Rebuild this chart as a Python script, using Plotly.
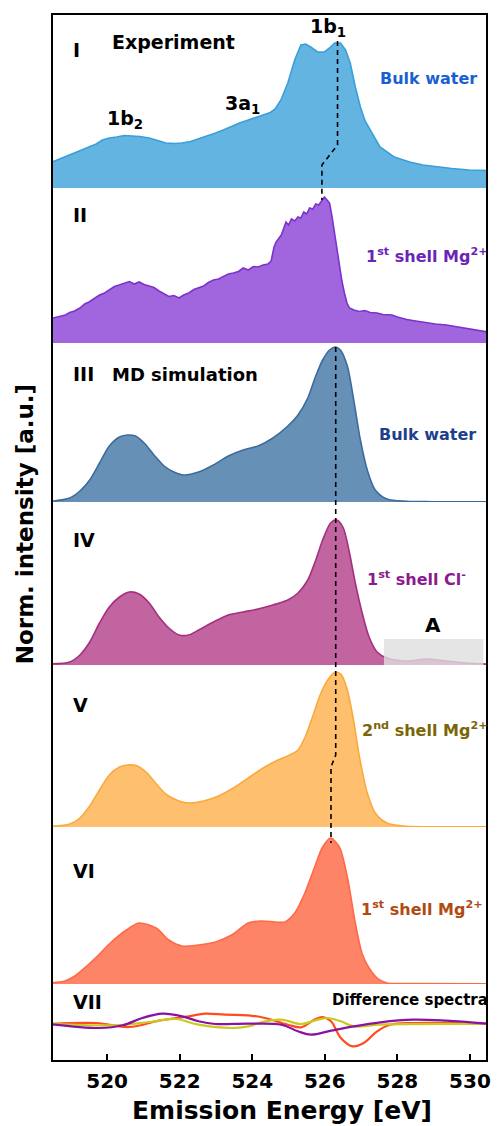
import plotly.graph_objects as go
from plotly.subplots import make_subplots

# ---------------- data ----------------
# I  Experiment, bulk water
E_exp_bulk = [518.40, 518.70, 518.97, 519.25, 519.52, 519.70, 519.87, 520.06, 520.26, 520.47, 520.69, 520.90,
              521.16, 521.40, 521.62, 521.85, 522.06, 522.30, 522.52, 522.75, 522.99, 523.20, 523.43, 523.65,
              523.89, 524.10, 524.35, 524.50, 524.63, 524.79, 524.98, 525.17, 525.34, 525.47, 525.61, 525.80,
              525.99, 526.13, 526.27, 526.43, 526.57, 526.70, 526.84, 526.98, 527.11, 527.25, 527.52, 527.91,
              528.34, 528.70, 529.08, 529.50, 529.98, 530.50]
I_exp_bulk = [24.7, 29, 33, 37, 41, 44, 48, 50, 51, 52.5, 52, 51.5,
              50, 47, 45, 44.5, 45, 46.5, 49, 52, 55, 58, 62, 65,
              68, 70.5, 73, 75.5, 79, 88, 105, 128, 143, 144, 141, 136,
              136, 140, 145, 145, 138, 125, 101, 81, 67, 58, 41, 31,
              26, 23, 21, 19.5, 18, 17.5]

# II  Experiment, 1st shell Mg2+
E_exp_mg1 = [518.40, 518.55, 518.70, 518.85, 518.97, 519.10, 519.25, 519.38, 519.50, 519.65, 519.79, 519.93,
             520.06, 520.20, 520.33, 520.47, 520.61, 520.75, 520.88, 521.02, 521.16, 521.29, 521.43, 521.57,
             521.70, 521.84, 521.98, 522.11, 522.25, 522.39, 522.52, 522.66, 522.79, 522.93, 523.07, 523.21,
             523.34, 523.48, 523.62, 523.75, 523.89, 524.03, 524.16, 524.30, 524.43, 524.52, 524.60, 524.66,
             524.72, 524.80, 524.87, 524.93, 525.00, 525.08, 525.17, 525.26, 525.34, 525.42, 525.50, 525.58,
             525.67, 525.75, 525.83, 525.92, 525.99, 526.06, 526.13, 526.20, 526.27, 526.35, 526.40, 526.47,
             526.54, 526.61, 526.68, 526.80, 526.95, 527.10, 527.25, 527.44, 527.60, 527.85, 528.00, 528.26,
             528.50, 528.80, 529.05, 529.35, 529.60, 529.90, 530.20, 530.50]
I_exp_mg1 = [24, 25.5, 27, 28, 30.5, 32, 35, 39, 41, 44.5, 48, 50,
             53, 56.5, 58, 60, 61.5, 59, 61, 58.5, 57, 55.5, 52, 49,
             46.5, 47.5, 45, 48, 50, 53.5, 55, 57, 60.5, 63, 64, 67,
             69, 70, 71.5, 75, 73, 76.5, 76, 78, 79, 82, 96, 101,
             104, 108, 115, 121, 118, 124, 122, 126, 125, 131, 129, 135,
             134, 139, 138, 143, 146, 143, 140, 126, 110, 90, 76, 62,
             50, 40, 35, 33, 31.5, 32.5, 30.5, 30, 28.5, 28, 26, 23.5,
             22, 20, 19, 18, 16.5, 15, 13, 11]

# III  MD simulation, bulk water
E_md_bulk = [518.40, 518.97, 519.25, 519.52, 519.79, 520.06, 520.34, 520.56, 520.78, 521.02, 521.29, 521.57,
             521.84, 522.11, 522.52, 522.93, 523.34, 523.75, 524.16, 524.57, 524.98, 525.26, 525.53, 525.75,
             525.94, 526.13, 526.30, 526.43, 526.62, 526.81, 526.98, 527.17, 527.39, 527.71, 528.26, 529.00, 530.50]
I_md_bulk = [0.5, 4, 11, 22, 39, 56, 65, 67, 66, 59, 47, 36,
             30, 27, 30, 37, 46, 52, 56, 64, 76, 87, 104, 126,
             142, 152, 155, 152, 136, 99, 62, 32, 12, 3, 0.7, 0.3, 0.2]

# IV  MD simulation, 1st shell Cl-
E_md_cl1 = [518.40, 518.97, 519.25, 519.52, 519.79, 520.06, 520.34, 520.61, 520.88, 521.16, 521.43, 521.70,
            521.98, 522.25, 522.52, 522.93, 523.34, 523.75, 524.16, 524.57, 524.98, 525.26, 525.53, 525.75,
            525.94, 526.16, 526.33, 526.51, 526.68, 526.84, 527.03, 527.22, 527.44, 527.71, 528.26, 528.81,
            529.35, 529.90, 530.50]
I_md_cl1 = [1, 3, 10, 23, 42, 58, 68, 73, 71, 62, 48, 37,
            30, 30, 35, 43, 50, 53, 56, 60, 65, 72, 85, 105,
            125, 142, 145, 137, 112, 82, 52, 28, 13, 7, 4, 6,
            4, 2, 1]

# V  MD simulation, 2nd shell Mg2+
E_md_mg2 = [518.40, 518.97, 519.25, 519.52, 519.79, 520.06, 520.34, 520.56, 520.83, 521.10, 521.38, 521.65,
            521.98, 522.25, 522.66, 523.07, 523.48, 523.89, 524.30, 524.71, 524.98, 525.26, 525.47, 525.67,
            525.86, 526.08, 526.29, 526.46, 526.62, 526.79, 526.95, 527.17, 527.39, 527.71, 528.26, 529.00, 530.50]
I_md_mg2 = [0.5, 3, 9, 21, 37, 52, 60, 62, 61, 54, 42, 32,
            26, 24, 26, 31, 39, 49, 59, 67, 71, 77, 91, 111,
            131, 147, 155, 152, 137, 107, 71, 34, 14, 4, 0.7, 0.3, 0.2]

# VI  MD simulation, 1st shell Mg2+
E_md_mg1 = [518.40, 518.84, 519.11, 519.44, 519.79, 520.06, 520.53, 520.88, 521.35, 521.70, 522.06, 522.52,
            522.99, 523.43, 523.89, 524.25, 524.63, 524.90, 525.17, 525.45, 525.72, 525.94, 526.16, 526.40,
            526.62, 526.84, 527.03, 527.22, 527.44, 527.71, 528.26, 530.50]
I_md_mg1 = [1, 3, 8, 18, 30, 40, 54, 61, 56, 44, 38, 39,
            42, 49, 61, 63, 62, 62, 71, 91, 117, 137, 146, 137,
            107, 61, 30, 16, 6, 1, 0.5, 0.2]

# VII  Difference spectra
E_diff_orange = [518.40, 519.70, 520.61, 521.43, 522.25, 522.70, 523.25, 523.89, 524.35, 524.98, 525.35, 525.71,
                 525.94, 526.17, 526.44, 526.76, 527.07, 527.44, 527.80, 528.44, 530.50]
D_diff_orange = [0, 1, -3, 3.3, 7.7, 10.3, 9.3, 8.7, 6, -0.7, -3.3, 4.3,
                 7, 2.7, -14, -22.3, -19, -7.3, -0.7, 1, 0.3]
E_diff_yellow = [518.40, 520.25, 521.16, 521.89, 522.52, 523.43, 523.89, 524.35, 524.80, 525.35, 525.71, 526.07,
                 526.44, 526.80, 527.53, 530.50]
D_diff_yellow = [0.3, -1.3, 2, 5, -0.7, -4, -2.3, 2.7, 4.3, 0, 3.3, 6,
                 2.7, -2.3, -0.7, 0.3]
E_diff_purple = [518.40, 519.79, 520.43, 520.97, 521.52, 522.07, 522.52, 522.98, 523.89, 524.80, 525.26, 525.62,
                 526.17, 526.80, 527.53, 528.44, 529.35, 530.50]
D_diff_purple = [0, -4, -1.3, 6, 10.3, 7.7, 2.7, 0, 0.3, -0.7, -7.3, -10.7,
                 -6.7, -2.3, 1.7, 4.3, 3.3, 0.3]

x_ticks = [520, 522, 524, 526, 528, 530]
x_range = [518.48, 530.47]

# guide lines through the 1b1 peak (energy values)
guide_upper_E = [526.35, 526.35, 525.92, 525.92]
guide_lower_E = [526.30, 526.30, 526.17, 526.17]

# ---------------- layout helpers ----------------
W, H = 497, 1126
ML, MR, MT, MB = 52, 6, 14, 65
PW = W - ML - MR
PH = H - MT - MB


def pxx(x):
    return (x - ML) / PW


def pxy(y):
    return (H - MB - y) / PH


panel_px = [174, 155, 159, 163, 162, 157, 77]
FONT = "DejaVu Sans"

fig = make_subplots(rows=7, cols=1, shared_xaxes=True, vertical_spacing=0,
                    row_heights=panel_px)

spectra = [
    (E_exp_bulk, I_exp_bulk, "#64b4e1", "#3a9fd8", "linear"),
    (E_exp_mg1, I_exp_mg1, "#a166de", "#7a34cc", "linear"),
    (E_md_bulk, I_md_bulk, "#6690b6", "#3d6c9c", "spline"),
    (E_md_cl1, I_md_cl1, "#c1649f", "#a5307f", "spline"),
    (E_md_mg2, I_md_mg2, "#fec06f", "#fba93d", "spline"),
    (E_md_mg1, I_md_mg1, "#fe8467", "#ff6946", "spline"),
]
for i, (ex, iy, fc, lc, shp) in enumerate(spectra):
    fig.add_trace(go.Scatter(x=ex, y=iy, mode="lines",
                             line=dict(color=lc, width=1.6, shape=shp, smoothing=0.8),
                             fill="tozeroy", fillcolor=fc, hoverinfo="skip"),
                  row=i + 1, col=1)

for ex, dy, c in [(E_diff_orange, D_diff_orange, "#ff4b1f"),
                  (E_diff_yellow, D_diff_yellow, "#c9c91f"),
                  (E_diff_purple, D_diff_purple, "#8a12a2")]:
    fig.add_trace(go.Scatter(x=ex, y=dy, mode="lines",
                             line=dict(color=c, width=2.2, shape="spline", smoothing=1.0),
                             hoverinfo="skip"), row=7, col=1)

for r in range(1, 8):
    fig.update_xaxes(range=x_range, showgrid=False, zeroline=False, showline=False,
                     ticks="", showticklabels=False, row=r, col=1)
    yr = [0, panel_px[r - 1]] if r < 7 else [-37, 40]
    fig.update_yaxes(range=yr, showgrid=False, zeroline=False, showline=False,
                     ticks="", showticklabels=False, fixedrange=True, row=r, col=1)

fig.update_xaxes(ticks="inside", ticklen=7, tickwidth=2, tickcolor="black",
                 tickvals=x_ticks, showticklabels=True,
                 tickfont=dict(family=FONT, size=20, color="black", weight="bold"),
                 ticklabelstandoff=6, row=7, col=1)

shapes = []
# gray region "A" in panel IV
shapes.append(dict(type="rect", xref="x4", yref="y4", x0=527.63, x1=530.37, y0=0, y1=26,
                   fillcolor="rgba(222,222,222,0.8)", line=dict(width=0), layer="above"))
# dashed guides
up_y = [41, 145, 165, 200]
lo_y = [347, 755, 767, 843]
for gE, gy in [(guide_upper_E, up_y), (guide_lower_E, lo_y)]:
    path = "M " + " L ".join(f"{e},{pxy(v):.5f}" for e, v in zip(gE, gy))
    shapes.append(dict(type="path", xref="x", yref="paper", path=path,
                       line=dict(color="black", width=1.6, dash="5px,4px"), layer="above"))
# frame
shapes.append(dict(type="rect", xref="paper", yref="paper", x0=0, x1=1, y0=0, y1=1,
                   line=dict(color="black", width=2), layer="above"))

ann = []


def add_text(text, x, y, size, color="black", xanchor="left"):
    ann.append(dict(text=text, x=pxx(x), y=pxy(y), xref="paper", yref="paper",
                    xanchor=xanchor, yanchor="middle", showarrow=False,
                    font=dict(family=FONT, size=size, color=color, weight="bold")))


for t, y in [("I", 50), ("II", 215), ("III", 374), ("IV", 540), ("V", 705), ("VI", 871), ("VII", 1002)]:
    add_text(t, 71, y, 19)
add_text("Experiment", 111, 42, 19)
add_text("MD simulation", 111, 374, 18)
add_text("1b<sub>1</sub>", 310, 27, 19)
add_text("3a<sub>1</sub>", 225, 104, 19)
add_text("1b<sub>2</sub>", 105, 120, 19)
add_text("A", 437, 625, 20, xanchor="center")

RS = 6  # right-anchored offset correction
add_text("Bulk water", 477 + RS, 78, 16, "#1a60d2", "right")
add_text("1<sup>st</sup> shell Mg<sup>2+</sup>", 488 + RS, 256, 16, "#6a24b6", "right")
add_text("Bulk water", 476 + RS, 434, 16, "#1d3f8c", "right")
add_text("1<sup>st</sup> shell Cl<sup>-</sup>", 466 + RS, 578, 16, "#8a1a8d", "right")
add_text("2<sup>nd</sup> shell Mg<sup>2+</sup>", 488 + RS, 729, 16, "#7a6508", "right")
add_text("1<sup>st</sup> shell Mg<sup>2+</sup>", 483 + RS, 908, 16, "#b04a12", "right")
add_text("Difference spectra", 488 + RS, 1000, 15, "black", "right")

# axis titles
ann.append(dict(text="Emission Energy [eV]", x=pxx(284), y=pxy(1110), xref="paper", yref="paper",
                xanchor="center", yanchor="middle", showarrow=False,
                font=dict(family=FONT, size=25, color="black", weight="bold")))
ann.append(dict(text="Norm. intensity [a.u.]", x=pxx(25), y=pxy(524), xref="paper", yref="paper",
                xanchor="center", yanchor="middle", showarrow=False, textangle=-90,
                font=dict(family=FONT, size=23, color="black", weight="bold")))

fig.update_layout(width=W, height=H, margin=dict(l=ML, r=MR, t=MT, b=MB),
                  paper_bgcolor="white", plot_bgcolor="white", showlegend=False,
                  shapes=shapes, annotations=ann,
                  font=dict(family=FONT, color="black"))

fig.write_html("out.html", config={"displayModeBar": False},
               post_script="document.body.style.margin='0';")
